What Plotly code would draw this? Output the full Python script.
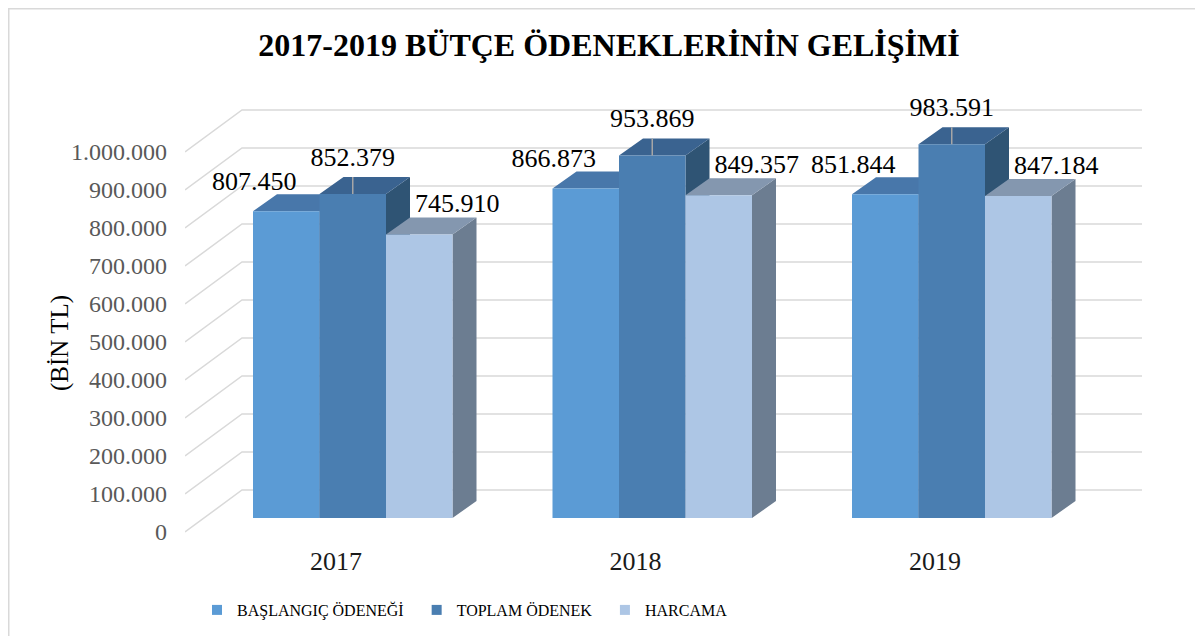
import plotly.graph_objects as go

# Data (BİN TL)
years = ["2017", "2018", "2019"]
series_names = ["BAŞLANGIÇ ÖDENEĞİ", "TOPLAM ÖDENEK", "HARCAMA"]
baslangic = [807450, 866873, 851844]
toplam = [852379, 953869, 983591]
harcama = [745910, 849357, 847184]
y_ticks = [0, 100000, 200000, 300000, 400000, 500000, 600000, 700000, 800000, 900000, 1000000]

# Colours: front, top, side
FRONT = ["#5B9BD5", "#4A7EB1", "#ADC6E5"]
TOP = ["#4877AA", "#3A6390", "#8497AF"]
SIDE = ["#3E6893", "#2F5474", "#6C7D91"]
FONT = "Liberation Serif, serif"

# pseudo-3D geometry (pixel sizes converted into axis units)
CAT_PX = 299.5
VAL_PX = 0.00038


def px_x(p):
    return p / CAT_PX


def px_y(p):
    return p / VAL_PX


BAR_W = px_x(66.5)
BAR_OFF = [px_x(-83), px_x(-16.5), px_x(50)]
BASE = px_y(14)
DX, DY = px_x(24), px_y(17)
WALL_X, WALL_Y = px_x(57), px_y(42)
X_LEFT, X_RIGHT, WALL_END = px_x(185 - 336), px_x(1150 - 336), px_x(1142 - 336)
LABEL_OFF = [(-32, 28), (0, 35), (38, 29)]

# plot area inside the figure (page adds an 8px body margin)
PL, PT, PW, PH = 177, 52, 965, 480

fig = go.Figure()

# back wall gridlines with the diagonal floor/side lines
gx, gy = [], []
for v in y_ticks:
    gx += [X_LEFT, X_LEFT + WALL_X, WALL_END, None]
    gy += [v, v + WALL_Y, v + WALL_Y, None]
fig.add_trace(go.Scatter(x=gx, y=gy, mode="lines", line=dict(color="#D9D9D9", width=1.5),
                         hoverinfo="skip", showlegend=False, cliponaxis=False))

all_series = [baslangic, toplam, harcama]
for s, vals in enumerate(all_series):
    fx, fy, tx, ty, sx, sy = [], [], [], [], [], []
    for c, v in enumerate(vals):
        xl = c + BAR_OFF[s]
        xr = xl + BAR_W
        top = BASE + v
        fx += [xl, xr, xr, xl, xl, None]
        fy += [BASE, BASE, top, top, BASE, None]
        tx += [xl, xr, xr + DX, xl + DX, xl, None]
        ty += [top, top, top + DY, top + DY, top, None]
        sx += [xr, xr + DX, xr + DX, xr, xr, None]
        sy += [BASE, BASE + DY, top + DY, top, BASE, None]
    for xs, ys, col in [(sx, sy, SIDE[s]), (tx, ty, TOP[s]), (fx, fy, FRONT[s])]:
        fig.add_trace(go.Scatter(x=xs, y=ys, mode="lines", fill="toself", fillcolor=col,
                                 line=dict(width=0, color=col), hoverinfo="skip",
                                 showlegend=False, cliponaxis=False))

# leader lines for the middle series
lx, ly = [], []
for c, v in enumerate(toplam):
    cx = c + BAR_OFF[1] + BAR_W / 2
    lx += [cx, cx, None]
    ly += [BASE + v, BASE + v + px_y(17), None]
fig.add_trace(go.Scatter(x=lx, y=ly, mode="lines", line=dict(color="#A6A6A6", width=1.5),
                         hoverinfo="skip", showlegend=False))

# data labels
for s, vals in enumerate(all_series):
    ox, oy = LABEL_OFF[s]
    fig.add_trace(go.Scatter(
        x=[c + BAR_OFF[s] + BAR_W / 2 + px_x(ox) for c in range(len(vals))],
        y=[BASE + v + px_y(oy) for v in vals],
        mode="text", text=[f"{v:,}".replace(",", ".") for v in vals],
        textfont=dict(family=FONT, size=26, color="#000000"),
        hoverinfo="skip", showlegend=False, cliponaxis=False))

# legend entries (non-breaking spaces widen the gaps like the original)
pads = ["\u00a0\u00a0", "\u00a0\u00a0", ""]
for s, name in enumerate(series_names):
    fig.add_trace(go.Scatter(x=[None], y=[None], mode="markers", name=name + pads[s],
                             marker=dict(symbol="square", size=10, color=FRONT[s])))

fig.update_layout(
    width=1203, height=636,
    paper_bgcolor="white", plot_bgcolor="white",
    margin=dict(l=PL, r=1203 - PL - PW, t=PT, b=636 - PT - PH),
    font=dict(family=FONT, color="#000000"),
    title=dict(text="<b>2017-2019 BÜTÇE ÖDENEKLERİNİN GELİŞİMİ</b>", x=601 / 1203, xanchor="center",
               y=1 - 37 / 636, yanchor="middle", font=dict(family=FONT, size=32, color="#000000")),
    showlegend=True,
    legend=dict(orientation="h", x=(197 - 185) / PW, xanchor="left", y=(540 - 610) / PH,
                yanchor="middle", font=dict(family=FONT, size=16, color="#000000"),
                bgcolor="rgba(0,0,0,0)"),
    annotations=[dict(text="(BİN TL)", textangle=-90, xref="paper", yref="paper",
                      x=(60 - 185) / PW, y=(540 - 343) / PH, xanchor="center", yanchor="middle",
                      showarrow=False, font=dict(family=FONT, size=25, color="#000000"))],
    shapes=[dict(type="rect", xref="paper", yref="paper",
                 x0=(0.75 - PL) / PW, x1=(1215 - PL) / PW,
                 y0=(PT + PH - 650) / PH, y1=(PT + PH - 0.75) / PH,
                 line=dict(color="#D9D9D9", width=1.5))],
)
fig.update_xaxes(range=[X_LEFT, X_RIGHT], tickvals=[0, 1, 2], ticktext=years,
                 showgrid=False, zeroline=False, showline=False, ticks="",
                 ticklabelstandoff=3, tickfont=dict(family=FONT, size=26, color="#1A1A1A"))
fig.update_yaxes(range=[-px_y(8), px_y(532 - 60)], tickvals=y_ticks,
                 ticktext=[f"{v:,}".replace(",", ".") for v in y_ticks],
                 showgrid=False, zeroline=False, showline=False, ticks="",
                 ticklabelstandoff=17, tickfont=dict(family=FONT, size=24, color="#595959"))

fig.write_html("out.html")
